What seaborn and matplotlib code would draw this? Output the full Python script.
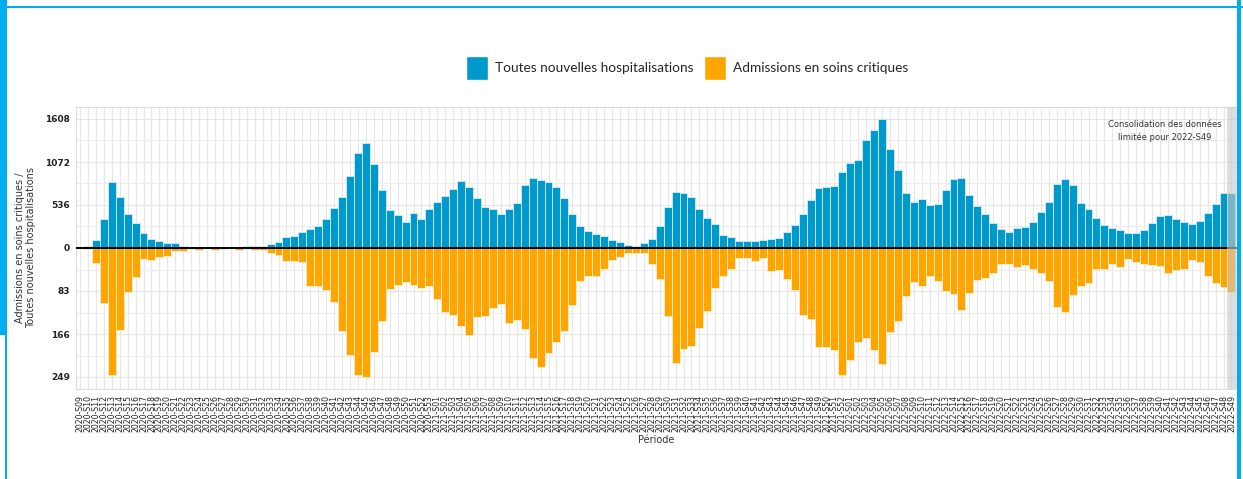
import pandas as pd
import matplotlib
matplotlib.use('Agg')
import matplotlib.pyplot as plt
import seaborn as sns
from matplotlib.patches import Patch, Rectangle

# Weekly periods 2020-S09 .. 2022-S49
periods = ([f'2020-S{w:02d}' for w in range(9, 54)]
           + [f'2021-S{w:02d}' for w in range(1, 53)]
           + [f'2022-S{w:02d}' for w in range(1, 50)])

hospitalisations = [
    3, 25, 96, 366, 827, 632, 420, 307, 183, 108, 87, 62, 62, 29, 12, 12, 8, 8, 8, 15,
    4, 20, 29, 29, 54, 75, 133, 145, 204, 237,
    274, 357, 499, 632, 902, 1180, 1309, 1047, 727, 474, 416, 324, 436, 361, 482, 573, 648, 740, 835, 760,
    619, 515, 490, 428, 482, 565, 789, 868, 852, 823, 765, 619, 424, 270, 208, 170, 150, 104, 71, 42,
    29, 58, 116, 274, 511, 698, 681, 632, 486, 370, 295, 158, 133, 87, 83, 83, 100, 112, 120, 204,
    291, 420, 602, 748, 765, 777, 951, 1055, 1101, 1346, 1475, 1608, 1234, 968, 681, 578, 607, 532, 553, 719,
    860, 868, 656, 528, 420, 316, 233, 199, 245, 258, 324, 445, 578, 798, 860, 781, 557, 482, 374, 287,
    245, 229, 191, 191, 229, 312, 399, 407, 361, 320, 303, 337, 440, 548, 690, 690]

soins_critiques = [
    0, 2, 28, 106, 246, 159, 84, 56, 21, 24, 17, 15, 6, 6, 1, 3, 0, 4, 2, 0,
    4, 2, 4, 4, 9, 13, 26, 26, 27, 73,
    73, 82, 105, 161, 207, 246, 249, 201, 141, 80, 72, 66, 72, 78, 73, 98, 123, 130, 150, 167,
    134, 132, 116, 109, 145, 139, 157, 213, 229, 203, 181, 161, 110, 64, 55, 55, 41, 23, 18, 9,
    10, 10, 30, 59, 131, 222, 195, 190, 154, 122, 77, 55, 41, 19, 19, 26, 19, 44, 42, 59,
    81, 129, 138, 192, 191, 196, 245, 216, 181, 174, 196, 224, 162, 140, 92, 66, 73, 54, 64, 83,
    88, 120, 86, 62, 57, 48, 31, 31, 36, 33, 41, 49, 64, 114, 124, 91, 73, 68, 41, 40,
    30, 36, 22, 27, 31, 33, 34, 49, 42, 41, 24, 27, 54, 67, 75, 84]

top_ticks = [536, 1072, 1608]
bottom_ticks = [83, 166, 249]

BLUE = '#0099cc'
ORANGE = '#ffa500'
FRAME = '#00aeef'

# Critical admissions are drawn downward on their own scale (249 <-> 1608)
scale = top_ticks[-1] / bottom_ticks[-1]
df = pd.DataFrame({'periode': periods,
                   'hosp': hospitalisations,
                   'crit': [-v * scale for v in soins_critiques]})

# Plot
sns.set_style('whitegrid')
plt.rcParams['font.family'] = ['DejaVu Sans']
W, H = 1243, 479
fig = plt.figure(figsize=(W / 100, H / 100), dpi=100)
ax = fig.add_axes([76 / W, 1 - 389 / H, (1237 - 76) / W, (389 - 107) / H])

sns.barplot(data=df, x='periode', y='hosp', order=periods, color=BLUE, saturation=1,
            width=1.0, edgecolor='#e8f4fa', linewidth=0.5, errorbar=None, ax=ax, zorder=2)
sns.barplot(data=df, x='periode', y='crit', order=periods, color=ORANGE, saturation=1,
            width=1.0, edgecolor='#fff3dc', linewidth=0.5, errorbar=None, ax=ax, zorder=2)

ax.axhline(0, color='black', linewidth=1.4, zorder=3)
n = len(periods)
ax.axvspan(n - 1.5, n - 0.5 + 0.2, color='#c8c8c8', alpha=0.6, linewidth=0, zorder=4)

lim = 141 * top_ticks[-1] / 129
ax.set_ylim(-lim, lim)
ax.set_xlim(-0.5, n - 0.5 + 0.2)
yt = [-t * scale for t in bottom_ticks[::-1]] + [0] + top_ticks
ax.set_yticks(yt)
ax.set_yticklabels([str(t) for t in bottom_ticks[::-1]] + ['0'] + [str(t) for t in top_ticks],
                   fontsize=6.5, fontweight='bold', color='#222222')
ax.set_yticks([(a + b) / 2 for a, b in zip(yt[:-1], yt[1:])], minor=True)
ax.set_xticks(range(n))
ax.set_xticklabels(periods, rotation=90, fontsize=5.6, color='#222222')

ax.grid(True, which='major', axis='both', color='#e6e6e6', linewidth=0.8, zorder=0)
ax.grid(True, which='minor', axis='y', color='#ececec', linewidth=0.8, zorder=0)
ax.set_axisbelow(True)
for s in ax.spines.values():
    s.set_color('#dddddd')
    s.set_linewidth(0.8)
ax.tick_params(axis='both', which='major', length=2.5, width=0.6, color='#cccccc', pad=2)
ax.tick_params(axis='y', which='minor', length=0)

ax.set_xlabel('Période', fontsize=7, color='#333333', labelpad=2)
ax.set_ylabel('Admissions en soins critiques /\nToutes nouvelles hospitalisations',
              fontsize=7, color='#333333', labelpad=6)

ax.text(0.938, 0.955, 'Consolidation des données\nlimitée pour 2022-S49',
        transform=ax.transAxes, ha='center', va='top', fontsize=6, color='#333333',
        linespacing=1.5)

handles = [Patch(facecolor=BLUE, label='Toutes nouvelles hospitalisations'),
           Patch(facecolor=ORANGE, label='Admissions en soins critiques')]
fig.legend(handles=handles, loc='center', bbox_to_anchor=(687 / W, 1 - 68 / H), ncol=2,
           frameon=False, handlelength=1.6, handleheight=2.4,
           handletextpad=0.55, columnspacing=0.75, prop={'family': 'Lato', 'size': 9.8})


# Screenshot frame
def px_rect(x0, y0, x1, y1):
    return Rectangle((x0 / W, 1 - y1 / H), (x1 - x0) / W, (y1 - y0) / H,
                     transform=fig.transFigure, color=FRAME, linewidth=0, zorder=10)


fig.add_artist(px_rect(0, 0, 7, 335))
fig.add_artist(px_rect(5, 335, 7, H))
fig.add_artist(px_rect(0, 6, W, 8))
fig.add_artist(px_rect(1237, 0, 1241, H))

plt.savefig('out.png', dpi=100)
